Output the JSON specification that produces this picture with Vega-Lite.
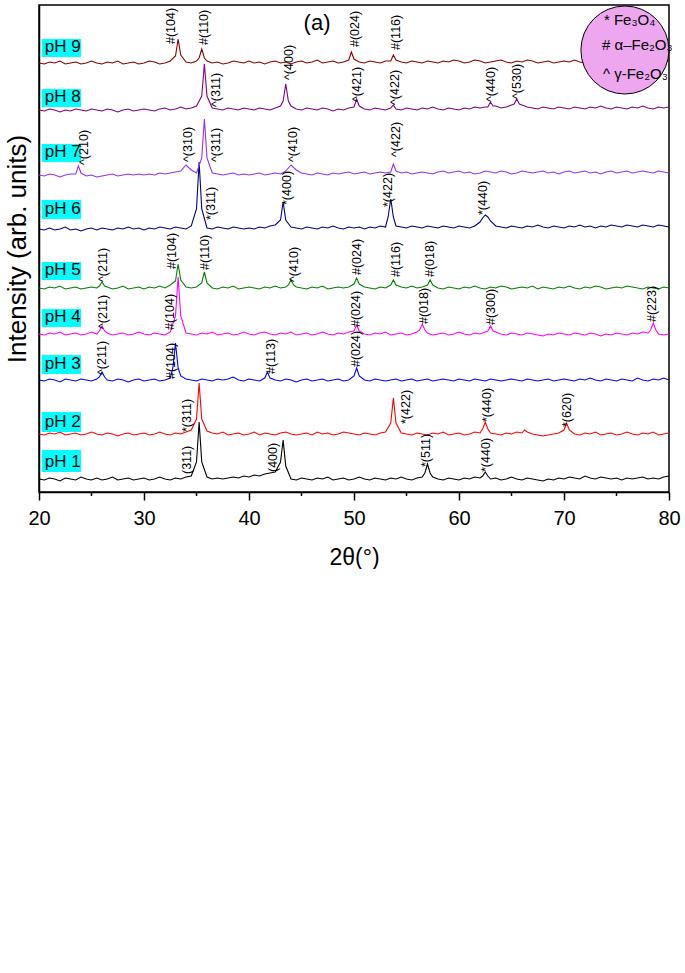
{
"$schema":"https://vega.github.io/schema/vega-lite/v6.json",
"background":"white",
"padding":{"left":4,"top":3,"right":5,"bottom":0},
"config":{"font":"Liberation Sans","view":{"stroke":null},
 "axis":{"labelColor":"black","titleColor":"black","domainColor":"black","tickColor":"black","titleFontWeight":"normal","labelFont":"Liberation Sans","titleFont":"Liberation Sans","grid":false,"zindex":1}},
"datasets":{
"xrd":[
{"x":20,"a":13,"b":58,"c":112,"d":158,"e":204,"f":263,"g":317,"h":382,"i":429},
{"x":20.5,"a":12,"b":57,"c":111,"d":157,"e":203,"f":262,"g":316,"h":381,"i":428},
{"x":21,"a":14,"b":59,"c":113,"d":159,"e":205,"f":264,"g":318,"h":383,"i":430},
{"x":21.5,"a":13,"b":58,"c":112,"d":158,"e":204,"f":262,"g":317,"h":382,"i":429},
{"x":22,"a":11,"b":60,"c":110,"d":160,"e":206,"f":263,"g":315,"h":380,"i":431},
{"x":22.5,"a":14,"b":57,"c":113,"d":157,"e":203,"f":265,"g":317,"h":382,"i":428},
{"x":23,"a":13,"b":58,"c":112,"d":158,"e":204,"f":262,"g":318,"h":381,"i":429},
{"x":23.5,"a":12,"b":59,"c":111,"d":159,"e":205,"f":263,"g":318,"h":383,"i":430},
{"x":24,"a":15,"b":57,"c":113,"d":157,"e":203,"f":261,"g":319,"h":382,"i":428},
{"x":24.5,"a":13,"b":58,"c":112,"d":158,"e":204,"f":263,"g":316,"h":381,"i":429},
{"x":25,"a":12,"b":60,"c":111,"d":160,"e":205,"f":264,"g":317,"h":383,"i":431},
{"x":25.5,"a":14,"b":58,"c":113,"d":158,"e":204,"f":262,"g":315,"h":382,"i":429},
{"x":26,"a":12,"b":57,"c":120,"d":166,"e":210,"f":264,"g":316,"h":381,"i":428},
{"x":26.5,"a":13,"b":59,"c":112,"d":159,"e":205,"f":263,"g":317,"h":383,"i":430},
{"x":27,"a":15,"b":58,"c":111,"d":157,"e":203,"f":262,"g":318,"h":382,"i":429},
{"x":27.5,"a":12,"b":56,"c":113,"d":158,"e":204,"f":264,"g":316,"h":380,"i":431},
{"x":28,"a":13,"b":58,"c":112,"d":159,"e":206,"f":263,"g":317,"h":382,"i":428},
{"x":28.5,"a":14,"b":59,"c":110,"d":157,"e":203,"f":265,"g":318,"h":383,"i":429},
{"x":29,"a":12,"b":57,"c":112,"d":158,"e":204,"f":263,"g":317,"h":381,"i":430},
{"x":29.5,"a":13,"b":58,"c":113,"d":160,"e":205,"f":264,"g":318,"h":382,"i":428},
{"x":30,"a":14,"b":59,"c":111,"d":158,"e":203,"f":262,"g":317,"h":383,"i":429},
{"x":30.5,"a":12,"b":57,"c":112,"d":157,"e":205,"f":264,"g":318,"h":382,"i":431},
{"x":31,"a":13,"b":58,"c":113,"d":159,"e":204,"f":263,"g":317,"h":381,"i":430},
{"x":31.5,"a":15,"b":60,"c":111,"d":158,"e":206,"f":265,"g":319,"h":383,"i":428},
{"x":32,"a":13,"b":58,"c":112,"d":157,"e":204,"f":264,"g":318,"h":384,"i":429},
{"x":32.5,"a":12,"b":57,"c":114,"d":160,"e":207,"f":263,"g":319,"h":382,"i":431},
{"x":33,"a":14,"b":59,"c":149,"d":176,"e":211,"f":265,"g":320,"h":383,"i":436},
{"x":33.5,"a":13,"b":58,"c":116,"d":176,"e":212,"f":264,"g":321,"h":385,"i":437},
{"x":34,"a":15,"b":60,"c":113,"d":159,"e":205,"f":263,"g":327,"h":383,"i":430},
{"x":34.5,"a":16,"b":62,"c":112,"d":158,"e":204,"f":266,"g":322,"h":384,"i":429},
{"x":35,"a":30,"b":73,"c":111,"d":157,"e":205,"f":283,"g":319,"h":386,"i":431},
{"x":35.5,"a":30,"b":73,"c":113,"d":159,"e":209,"f":283,"g":334,"h":396,"i":443},
{"x":36,"a":15,"b":61,"c":112,"d":158,"e":209,"f":264,"g":334,"h":396,"i":431},
{"x":36.5,"a":13,"b":59,"c":111,"d":160,"e":204,"f":263,"g":319,"h":384,"i":429},
{"x":37,"a":14,"b":58,"c":113,"d":157,"e":203,"f":265,"g":318,"h":383,"i":430},
{"x":37.5,"a":13,"b":60,"c":112,"d":158,"e":205,"f":264,"g":317,"h":382,"i":428},
{"x":38,"a":14,"b":57,"c":113,"d":159,"e":204,"f":263,"g":318,"h":384,"i":429},
{"x":38.5,"a":15,"b":58,"c":115,"d":157,"e":206,"f":265,"g":319,"h":383,"i":431},
{"x":39,"a":14,"b":59,"c":112,"d":158,"e":203,"f":264,"g":317,"h":382,"i":430},
{"x":39.5,"a":16,"b":57,"c":111,"d":160,"e":204,"f":263,"g":318,"h":384,"i":429},
{"x":40,"a":15,"b":58,"c":113,"d":158,"e":205,"f":264,"g":317,"h":383,"i":431},
{"x":40.5,"a":17,"b":60,"c":112,"d":157,"e":204,"f":263,"g":318,"h":382,"i":429},
{"x":41,"a":16,"b":57,"c":111,"d":159,"e":203,"f":265,"g":319,"h":384,"i":430},
{"x":41.5,"a":18,"b":59,"c":114,"d":160,"e":205,"f":264,"g":317,"h":383,"i":428},
{"x":42,"a":19,"b":58,"c":114,"d":158,"e":204,"f":266,"g":318,"h":382,"i":430},
{"x":42.5,"a":20,"b":57,"c":112,"d":157,"e":206,"f":267,"g":319,"h":384,"i":431},
{"x":43,"a":30,"b":59,"c":111,"d":159,"e":204,"f":272,"g":318,"h":386,"i":429},
{"x":43.5,"a":26,"b":60,"c":113,"d":158,"e":205,"f":272,"g":321,"h":408,"i":430},
{"x":44,"a":13,"b":58,"c":112,"d":160,"e":212,"f":265,"g":327,"h":386,"i":428},
{"x":44.5,"a":12,"b":57,"c":110,"d":157,"e":205,"f":264,"g":322,"h":383,"i":430},
{"x":45,"a":14,"b":58,"c":112,"d":158,"e":204,"f":263,"g":319,"h":382,"i":431},
{"x":45.5,"a":13,"b":59,"c":113,"d":159,"e":203,"f":265,"g":318,"h":384,"i":429},
{"x":46,"a":12,"b":57,"c":111,"d":157,"e":205,"f":264,"g":317,"h":383,"i":430},
{"x":46.5,"a":14,"b":60,"c":112,"d":158,"e":204,"f":263,"g":319,"h":382,"i":432},
{"x":47,"a":13,"b":58,"c":113,"d":160,"e":206,"f":265,"g":318,"h":384,"i":429},
{"x":47.5,"a":15,"b":59,"c":111,"d":158,"e":203,"f":264,"g":317,"h":383,"i":430},
{"x":48,"a":12,"b":57,"c":112,"d":157,"e":204,"f":266,"g":319,"h":381,"i":431},
{"x":48.5,"a":13,"b":58,"c":113,"d":159,"e":205,"f":264,"g":318,"h":383,"i":429},
{"x":49,"a":14,"b":60,"c":111,"d":158,"e":204,"f":263,"g":319,"h":382,"i":430},
{"x":49.5,"a":12,"b":59,"c":112,"d":160,"e":205,"f":265,"g":320,"h":384,"i":432},
{"x":50,"a":13,"b":58,"c":116,"d":161,"e":208,"f":264,"g":318,"h":385,"i":433},
{"x":50.5,"a":15,"b":57,"c":116,"d":161,"e":208,"f":265,"g":319,"h":386,"i":430},
{"x":51,"a":13,"b":59,"c":112,"d":158,"e":205,"f":263,"g":320,"h":383,"i":429},
{"x":51.5,"a":12,"b":58,"c":111,"d":157,"e":204,"f":265,"g":318,"h":382,"i":431},
{"x":52,"a":14,"b":57,"c":113,"d":159,"e":203,"f":264,"g":319,"h":384,"i":430},
{"x":52.5,"a":13,"b":59,"c":112,"d":158,"e":205,"f":266,"g":320,"h":383,"i":429},
{"x":53,"a":12,"b":60,"c":111,"d":160,"e":204,"f":265,"g":319,"h":382,"i":431},
{"x":53.5,"a":14,"b":69,"c":112,"d":157,"e":207,"f":293,"g":320,"h":384,"i":431},
{"x":54,"a":13,"b":69,"c":113,"d":158,"e":207,"f":266,"g":321,"h":383,"i":432},
{"x":54.5,"a":15,"b":59,"c":111,"d":159,"e":205,"f":265,"g":319,"h":382,"i":430},
{"x":55,"a":13,"b":58,"c":112,"d":157,"e":204,"f":264,"g":320,"h":384,"i":429},
{"x":55.5,"a":12,"b":57,"c":113,"d":158,"e":206,"f":266,"g":318,"h":383,"i":431},
{"x":56,"a":14,"b":59,"c":111,"d":160,"e":204,"f":265,"g":319,"h":382,"i":430},
{"x":56.5,"a":15,"b":58,"c":112,"d":168,"e":205,"f":264,"g":320,"h":384,"i":429},
{"x":57,"a":28,"b":57,"c":113,"d":159,"e":207,"f":266,"g":319,"h":383,"i":431},
{"x":57.5,"a":15,"b":59,"c":111,"d":157,"e":207,"f":265,"g":318,"h":385,"i":430},
{"x":58,"a":13,"b":58,"c":112,"d":158,"e":204,"f":264,"g":320,"h":383,"i":429},
{"x":58.5,"a":12,"b":60,"c":113,"d":159,"e":203,"f":266,"g":321,"h":382,"i":431},
{"x":59,"a":14,"b":57,"c":112,"d":157,"e":205,"f":265,"g":319,"h":384,"i":430},
{"x":59.5,"a":13,"b":58,"c":111,"d":158,"e":204,"f":264,"g":320,"h":383,"i":432},
{"x":60,"a":12,"b":59,"c":113,"d":160,"e":203,"f":266,"g":321,"h":382,"i":431},
{"x":60.5,"a":14,"b":57,"c":112,"d":158,"e":205,"f":265,"g":319,"h":384,"i":429},
{"x":61,"a":13,"b":58,"c":111,"d":157,"e":204,"f":264,"g":320,"h":383,"i":430},
{"x":61.5,"a":15,"b":60,"c":113,"d":159,"e":206,"f":266,"g":318,"h":385,"i":432},
{"x":62,"a":14,"b":59,"c":112,"d":158,"e":204,"f":270,"g":319,"h":384,"i":431},
{"x":62.5,"a":20,"b":70,"c":111,"d":160,"e":203,"f":277,"g":321,"h":385,"i":429},
{"x":63,"a":13,"b":59,"c":113,"d":166,"e":205,"f":271,"g":320,"h":390,"i":430},
{"x":63.5,"a":14,"b":58,"c":112,"d":160,"e":204,"f":266,"g":319,"h":386,"i":431},
{"x":64,"a":12,"b":57,"c":111,"d":158,"e":206,"f":265,"g":321,"h":384,"i":432},
{"x":64.5,"a":13,"b":59,"c":112,"d":157,"e":205,"f":264,"g":320,"h":385,"i":430},
{"x":65,"a":15,"b":58,"c":113,"d":159,"e":203,"f":266,"g":318,"h":387,"i":429},
{"x":65.5,"a":13,"b":60,"c":112,"d":158,"e":204,"f":265,"g":319,"h":393,"i":431},
{"x":66,"a":12,"b":59,"c":111,"d":157,"e":205,"f":264,"g":321,"h":387,"i":430},
{"x":66.5,"a":14,"b":60,"c":113,"d":159,"e":204,"f":266,"g":320,"h":385,"i":432},
{"x":67,"a":13,"b":58,"c":112,"d":158,"e":206,"f":265,"g":319,"h":384,"i":431},
{"x":67.5,"a":12,"b":57,"c":111,"d":157,"e":203,"f":267,"g":320,"h":383,"i":429},
{"x":68,"a":11,"b":56,"c":112,"d":156,"e":205,"f":265,"g":321,"h":385,"i":430},
{"x":68.5,"a":13,"b":57,"c":113,"d":158,"e":204,"f":264,"g":319,"h":384,"i":431},
{"x":69,"a":12,"b":58,"c":111,"d":157,"e":203,"f":266,"g":320,"h":383,"i":429},
{"x":69.5,"a":14,"b":59,"c":112,"d":159,"e":205,"f":265,"g":318,"h":385,"i":430},
{"x":70,"a":13,"b":62,"c":113,"d":158,"e":204,"f":264,"g":320,"h":384,"i":431},
{"x":70.5,"a":15,"b":62,"c":112,"d":157,"e":206,"f":266,"g":321,"h":383,"i":430},
{"x":71,"a":14,"b":58,"c":111,"d":159,"e":204,"f":265,"g":319,"h":385,"i":432},
{"x":71.5,"a":13,"b":57,"c":113,"d":158,"e":203,"f":267,"g":320,"h":384,"i":430},
{"x":72,"a":16,"b":59,"c":112,"d":157,"e":205,"f":265,"g":321,"h":383,"i":429},
{"x":72.5,"a":14,"b":58,"c":114,"d":159,"e":204,"f":266,"g":319,"h":385,"i":431},
{"x":73,"a":13,"b":60,"c":112,"d":158,"e":206,"f":264,"g":320,"h":384,"i":430},
{"x":73.5,"a":15,"b":57,"c":111,"d":156,"e":205,"f":266,"g":318,"h":386,"i":432},
{"x":74,"a":14,"b":58,"c":113,"d":158,"e":203,"f":265,"g":320,"h":384,"i":431},
{"x":74.5,"a":13,"b":59,"c":112,"d":157,"e":204,"f":267,"g":321,"h":383,"i":429},
{"x":75,"a":14,"b":57,"c":111,"d":159,"e":205,"f":266,"g":319,"h":385,"i":430},
{"x":75.5,"a":12,"b":58,"c":113,"d":158,"e":204,"f":265,"g":320,"h":384,"i":432},
{"x":76,"a":14,"b":60,"c":112,"d":157,"e":206,"f":267,"g":321,"h":383,"i":431},
{"x":76.5,"a":13,"b":58,"c":111,"d":159,"e":205,"f":266,"g":319,"h":385,"i":430},
{"x":77,"a":14,"b":57,"c":114,"d":158,"e":204,"f":265,"g":320,"h":384,"i":429},
{"x":77.5,"a":15,"b":59,"c":112,"d":160,"e":203,"f":267,"g":321,"h":386,"i":431},
{"x":78,"a":13,"b":58,"c":111,"d":159,"e":205,"f":266,"g":320,"h":384,"i":430},
{"x":78.5,"a":14,"b":60,"c":113,"d":169,"e":204,"f":265,"g":319,"h":383,"i":432},
{"x":79,"a":13,"b":57,"c":112,"d":158,"e":203,"f":267,"g":321,"h":385,"i":431},
{"x":79.5,"a":15,"b":58,"c":114,"d":157,"e":205,"f":266,"g":320,"h":384,"i":430},
{"x":80,"a":16,"b":59,"c":112,"d":158,"e":204,"f":265,"g":319,"h":385,"i":431},
{"x":23.75,"g":326},
{"x":25.75,"c":115,"d":161,"e":206},
{"x":26.25,"c":115,"d":161,"e":206},
{"x":32.75,"c":124},
{"x":33.25,"c":124,"d":215,"e":228,"i":453},
{"x":35.25,"a":70,"b":109,"f":330,"i":434},
{"x":35.75,"e":220,"g":373,"h":428,"i":434},
{"x":41.75,"c":120},
{"x":43.25,"a":52,"f":290,"h":391},
{"x":43.75,"e":207,"h":391},
{"x":44.25,"e":207},
{"x":49.75,"i":440},
{"x":50.25,"c":124,"d":167,"e":214,"h":393},
{"x":53.25,"f":275},
{"x":53.75,"b":94,"e":212,"f":275,"g":328,"h":387,"i":437},
{"x":56.25,"d":162},
{"x":56.75,"a":19,"d":162},
{"x":57.25,"a":19,"e":212},
{"x":62.25,"a":16,"b":63,"f":274},
{"x":62.75,"a":16,"b":63,"d":161,"f":275,"h":385},
{"x":63.25,"d":161,"h":386},
{"x":65.25,"h":388},
{"x":65.75,"h":388},
{"x":66.25,"b":62},
{"x":70.25,"b":69},
{"x":78.25,"d":162},
{"x":78.75,"d":162}
],
"lab":[
{"x":32.6,"y":448,"t":"#(104)"},{"x":35.7,"y":447,"t":"#(110)"},{"x":50.1,"y":445,"t":"#(024)"},{"x":53.97,"y":442,"t":"#(116)"},
{"x":36.86,"y":385,"t":"^(311)"},{"x":43.84,"y":412,"t":"^(400)"},{"x":50.26,"y":390,"t":"^(421)"},{"x":53.9,"y":387,"t":"^(422)"},{"x":63.05,"y":390,"t":"^(440)"},{"x":65.5,"y":393,"t":"^(530)"},
{"x":24.3,"y":327,"t":"^(210)"},{"x":34.2,"y":330,"t":"^(310)"},{"x":36.9,"y":330,"t":"^(311)"},{"x":44.15,"y":330,"t":"^(410)"},{"x":53.97,"y":335,"t":"^(422)"},
{"x":36.4,"y":272,"t":"*(311)"},{"x":43.65,"y":287,"t":"*(400)"},{"x":53.27,"y":285,"t":"*(422)"},{"x":62.25,"y":277,"t":"*(440)"},
{"x":26.1,"y":210,"t":"^(211)"},{"x":32.7,"y":223,"t":"#(104)"},{"x":35.8,"y":222,"t":"#(110)"},{"x":44.3,"y":210,"t":"^(410)"},{"x":50.26,"y":217,"t":"#(024)"},{"x":54.0,"y":215,"t":"#(116)"},{"x":57.24,"y":215,"t":"#(018)"},
{"x":26.1,"y":163,"t":"^(211)"},{"x":32.5,"y":162,"t":"#(104)"},{"x":50.16,"y":165,"t":"#(024)"},{"x":56.7,"y":168,"t":"#(018)"},{"x":63.0,"y":167,"t":"#(300)"},{"x":78.4,"y":170,"t":"#(223)"},
{"x":26.0,"y":117,"t":"^(211)"},{"x":32.6,"y":113,"t":"#(104)"},{"x":42.07,"y":118,"t":"#(113)"},{"x":50.16,"y":125,"t":"#(024)"},
{"x":34.06,"y":60,"t":"*(311)"},{"x":54.95,"y":68,"t":"*(422)"},{"x":62.7,"y":70,"t":"*(440)"},{"x":70.3,"y":65,"t":"*(620)"},
{"x":34.1,"y":18,"t":"(311)"},{"x":42.3,"y":20,"t":"(400)"},{"x":56.9,"y":25,"t":"*(511)"},{"x":62.6,"y":20,"t":"*(440)"}
],
"ph":[{"t":"pH 9","x":20.26,"x2":24,"y":435,"y2":453},{"t":"pH 8","x":20.26,"x2":24,"y":385,"y2":403},{"t":"pH 7","x":20.26,"x2":24,"y":330,"y2":348},{"t":"pH 6","x":20.26,"x2":24,"y":273,"y2":292},{"t":"pH 5","x":20.26,"x2":24,"y":212,"y2":230},{"t":"pH 4","x":20.26,"x2":24,"y":165,"y2":183},{"t":"pH 3","x":20.26,"x2":24,"y":118,"y2":137},{"t":"pH 2","x":20.26,"x2":24,"y":60,"y2":80},{"t":"pH 1","x":20.26,"x2":24,"y":20,"y2":42}],
"cl":[{"x":73.8,"y":472,"t":"* Fe₃O₄"},{"x":73.62,"y":447,"t":"# α–Fe₂O₃"},{"x":73.71,"y":418,"t":"^ γ-Fe₂O₃"}],
"circ":[{"x":75.8,"y":442}],
"ta":[{"x":46.48,"y":469,"t":"(a)"}],
"minA":[{"x":25,"y":0,"y2":-4},{"x":35,"y":0,"y2":-4},{"x":45,"y":0,"y2":-4},{"x":55,"y":0,"y2":-4},{"x":65,"y":0,"y2":-4},{"x":75,"y":0,"y2":-4}]
},
"width":630,"height":487,
"view":{"stroke":"black","strokeWidth":1.5},
"encoding":{
 "x":{"field":"x","type":"quantitative","scale":{"domain":[20,80],"nice":false,"zero":false},
  "axis":{"values":[20,30,40,50,60,70,80],"tickSize":8,"tickWidth":1.5,"domainWidth":1.5,"labelFontSize":20,"labelPadding":8,"labelOverlap":false,"labelFlush":false,"title":"2θ(°)","titleFontSize":23,"titlePadding":18}},
 "y":{"field":"y","type":"quantitative","scale":{"domain":[0,487],"nice":false,"zero":false},
  "axis":{"labels":false,"ticks":false,"domainWidth":1.5,"title":"Intensity (arb. units)","titleFontSize":26,"titlePadding":9}}
},
"layer":[
 {"data":{"name":"xrd"},
  "transform":[{"fold":["a","b","c","d","e","f","g","h","i"],"as":["s","y"]},{"filter":"isValid(datum.y)"}],
  "mark":{"type":"line","strokeWidth":1.1},
  "encoding":{"color":{"field":"s","type":"nominal","legend":null,"scale":{"domain":["a","b","c","d","e","f","g","h","i"],"range":["#000000","#ff0000","#0000ff","#ff00ff","#008000","#000080","#9632f0","#800080","#8b0000"]}}}},
 {"data":{"name":"minA"},
  "mark":{"type":"rule","color":"black","strokeWidth":1.5},
  "encoding":{"y2":{"field":"y2"}}},
 {"data":{"name":"circ"},
  "mark":{"type":"point","shape":"circle","filled":true,"fill":"#eea6ee","fillOpacity":1,"stroke":"black","strokeWidth":1,"size":7744,"opacity":1}},
 {"data":{"name":"cl"},
  "mark":{"type":"text","align":"left","baseline":"middle","fontSize":15,"color":"black"},
  "encoding":{"text":{"field":"t"}}},
 {"data":{"name":"ph"},
  "mark":{"type":"rect","fill":"#00ffff"},
  "encoding":{"x2":{"field":"x2"},"y2":{"field":"y2"}}},
 {"data":{"name":"ph"},
  "mark":{"type":"text","align":"left","baseline":"middle","fontSize":17,"dx":3,"dy":-10,"color":"black"},
  "encoding":{"text":{"field":"t"}}},
 {"data":{"name":"lab"},
  "mark":{"type":"text","angle":270,"align":"left","baseline":"middle","fontSize":12.5,"color":"black"},
  "encoding":{"text":{"field":"t"}}},
 {"data":{"name":"ta"},
  "mark":{"type":"text","align":"center","baseline":"middle","fontSize":22,"color":"black"},
  "encoding":{"text":{"field":"t"}}}
]
}
